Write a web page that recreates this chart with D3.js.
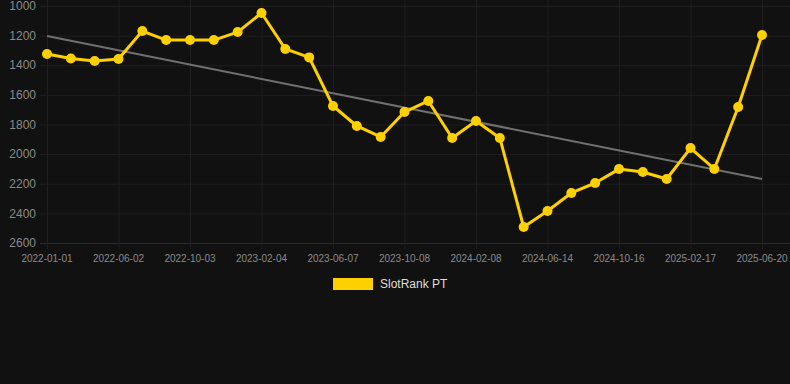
<!DOCTYPE html>
<html><head><meta charset="utf-8">
<script src="https://cdn.jsdelivr.net/npm/d3@7"></script>
<style>html,body{margin:0;padding:0;background:#111111;}svg{display:block;}</style>
</head><body>
<svg id="c" width="790" height="384"></svg>
<script>
const dates = ["2022-01-01","2022-02-20","2022-04-11","2022-06-02","2022-07-13","2022-08-23","2022-10-03","2022-11-13","2022-12-24","2023-02-04","2023-03-17","2023-04-27","2023-06-07","2023-07-18","2023-08-28","2023-10-08","2023-11-18","2023-12-29","2024-02-08","2024-03-29","2024-05-04","2024-06-14","2024-07-25","2024-09-04","2024-10-16","2024-11-26","2025-01-06","2025-02-17","2025-03-30","2025-05-10","2025-06-20"];
const ranks = [1324,1355,1371,1358,1169,1230,1230,1230,1176,1047,1290,1347,1675,1810,1884,1716,1641,1891,1776,1891,2492,2384,2262,2195,2101,2121,2168,1959,2100,1682,1196];
const trend = [1203, 2168];
const yTicks = [1000,1200,1400,1600,1800,2000,2200,2400,2600];
const seriesName = "SlotRank PT";

(function () {
const svg = d3.select("#c");
const W = 790, mLeft = 40, mTop = 6, mBottom = 243;
const x = d3.scalePoint().domain(dates).range([47, 762]);
const y = d3.scaleLinear().domain([1000, 2600]).range([mTop, mBottom]);

// horizontal grid
svg.append("g").selectAll("line").data(yTicks).join("line")
  .attr("x1", mLeft).attr("x2", W).attr("y1", d => y(d) + 0.5).attr("y2", d => y(d) + 0.5)
  .attr("stroke", d => d === 2600 ? "#2a2a2a" : "#1f1f1f").attr("stroke-width", 1);
// vertical grid
const labeled = dates.filter((d, i) => i % 3 === 0);
svg.append("g").selectAll("line").data(labeled).join("line")
  .attr("x1", d => x(d) + 0.5).attr("x2", d => x(d) + 0.5).attr("y1", 0).attr("y2", mBottom + 6)
  .attr("stroke", "#1f1f1f").attr("stroke-width", 1);

// y labels
svg.append("g").selectAll("text").data(yTicks).join("text")
  .attr("x", 36).attr("y", d => y(d)).attr("dy", "0.35em")
  .attr("text-anchor", "end").attr("fill", "#8a8a8a")
  .style("font", "12px Arial, 'Liberation Sans', sans-serif").text(d => d);
// x labels
svg.append("g").selectAll("text").data(labeled).join("text")
  .attr("x", d => x(d)).attr("y", 262)
  .attr("text-anchor", "middle").attr("fill", "#8a8a8a")
  .style("font", "10px Arial, 'Liberation Sans', sans-serif").text(d => d);

// trend line
svg.append("line")
  .attr("x1", x(dates[0])).attr("x2", x(dates[dates.length - 1]))
  .attr("y1", y(trend[0])).attr("y2", y(trend[1]))
  .attr("stroke", "#707070").attr("stroke-width", 2);

// series line
const line = d3.line().x((d, i) => x(dates[i])).y(d => y(d));
svg.append("path").datum(ranks).attr("d", line)
  .attr("fill", "none").attr("stroke", "#FFD000").attr("stroke-width", 3)
  .attr("stroke-linejoin", "round");
svg.append("g").selectAll("circle").data(ranks).join("circle")
  .attr("cx", (d, i) => x(dates[i])).attr("cy", d => y(d)).attr("r", 5)
  .attr("fill", "#FFD000");

// legend
svg.append("rect").attr("x", 333).attr("y", 278).attr("width", 40).attr("height", 12).attr("fill", "#FFD000");
svg.append("text").attr("x", 380).attr("y", 284).attr("dy", "0.35em")
  .attr("fill", "#dddddd").style("font", "12px Arial, 'Liberation Sans', sans-serif").text(seriesName);
})();
</script>
</body></html>
